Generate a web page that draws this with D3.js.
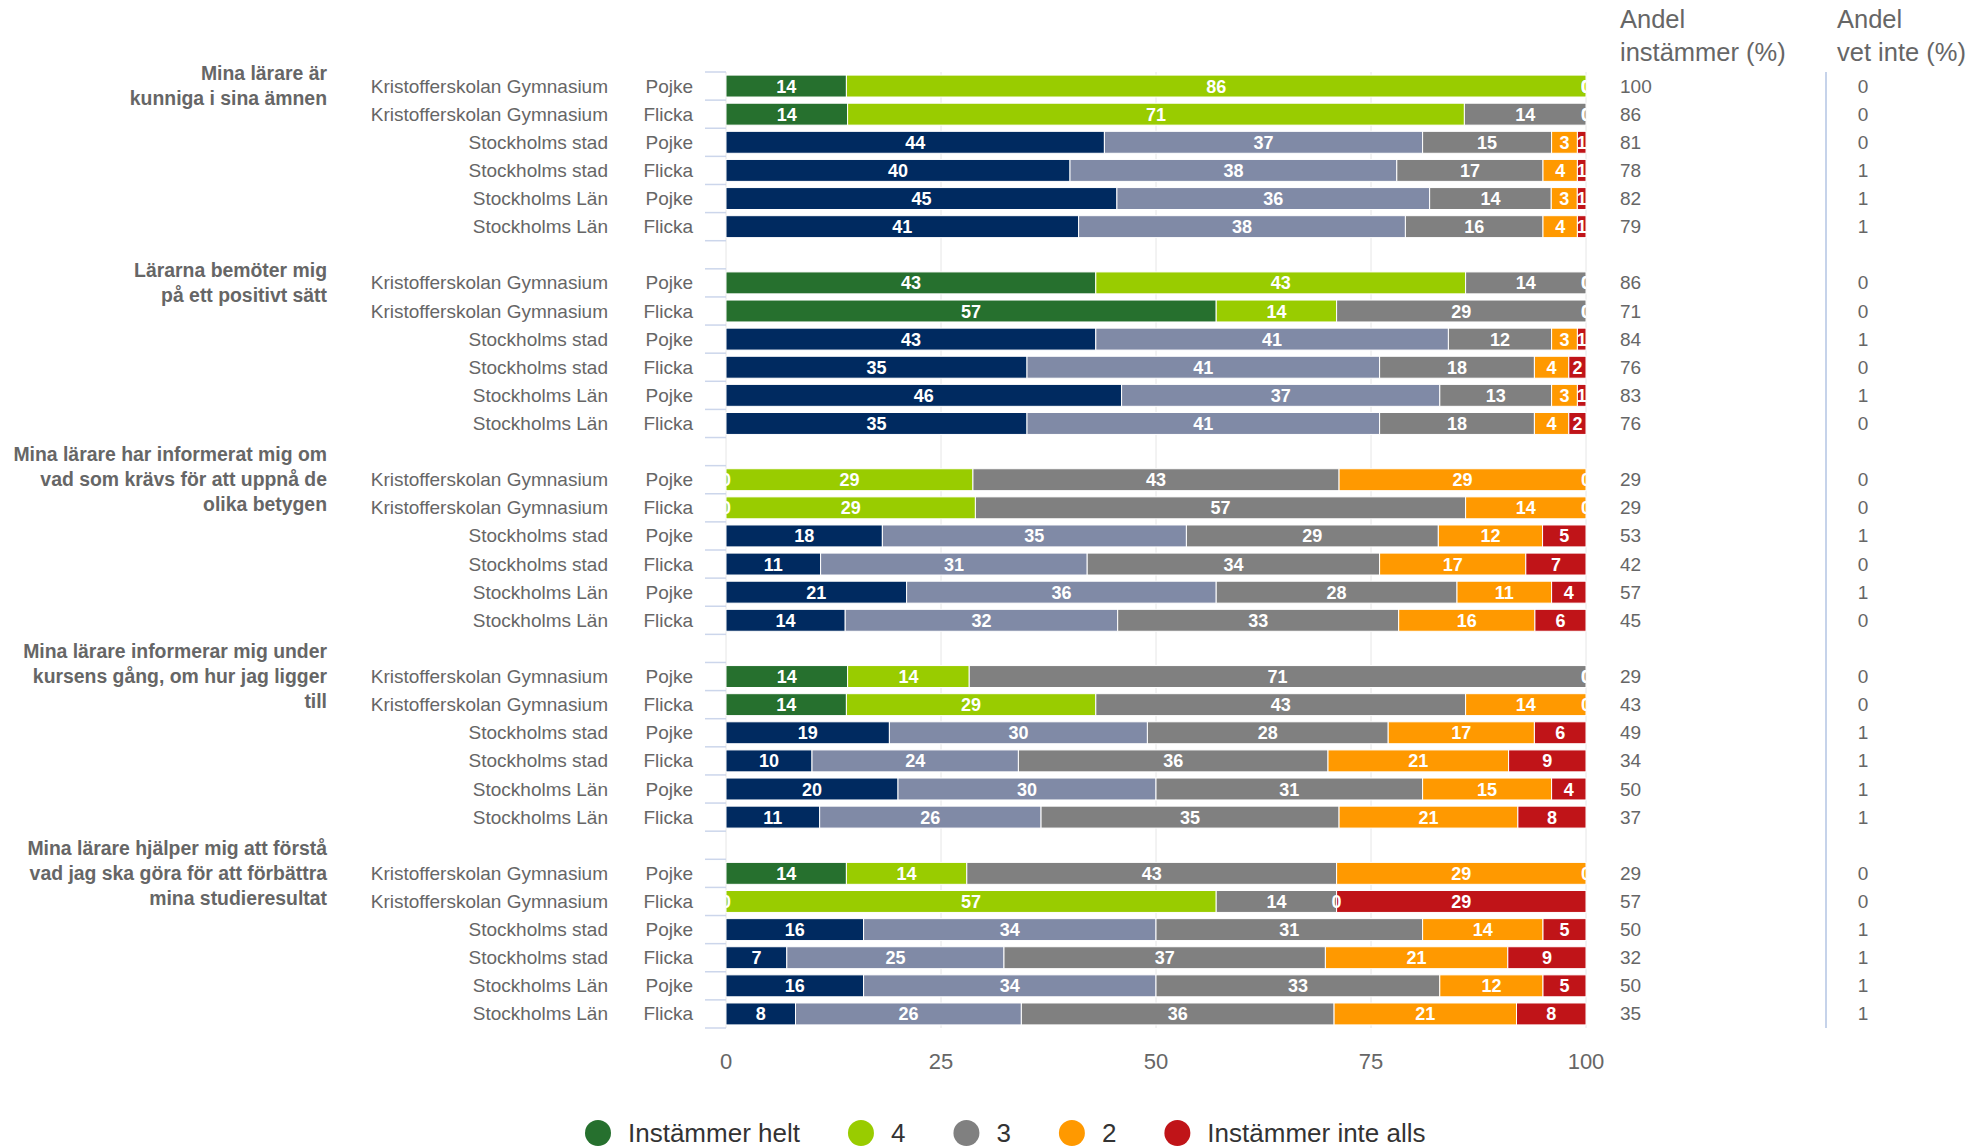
<!DOCTYPE html>
<html>
<head>
<meta charset="utf-8">
<script src="https://cdnjs.cloudflare.com/ajax/libs/d3/7.8.5/d3.min.js"></script>
<style>
  body { margin: 0; background: #fff; }
  svg { font-family: "Liberation Sans", Arial, Helvetica, sans-serif; }
</style>
</head>
<body>
<div class="chart"></div>
<script>
// Answer categories, in stacking order
var categories = ["Instämmer helt", "4", "3", "2", "Instämmer inte alls"];

// Question labels (already broken into lines like the original)
var questions = [
    ["Mina lärare är", "kunniga i sina ämnen"],
    ["Lärarna bemöter mig", "på ett positivt sätt"],
    ["Mina lärare har informerat mig om", "vad som krävs för att uppnå de", "olika betygen"],
    ["Mina lärare informerar mig under", "kursens gång, om hur jag ligger", "till"],
    ["Mina lärare hjälper mig att förstå", "vad jag ska göra för att förbättra", "mina studieresultat"]
];

// Rows inside each question
var schools = ["Kristofferskolan Gymnasium", "Kristofferskolan Gymnasium", "Stockholms stad", "Stockholms stad", "Stockholms Län", "Stockholms Län"];
var genders = ["Pojke", "Flicka", "Pojke", "Flicka", "Pojke", "Flicka"];

// Percent per category, one row per bar (5 questions x 6 rows)
var values = [
    [14, 86, 0, 0, 0], [14, 71, 14, 0, 0], [44, 37, 15, 3, 1], [40, 38, 17, 4, 1], [45, 36, 14, 3, 1], [41, 38, 16, 4, 1],
    [43, 43, 14, 0, 0], [57, 14, 29, 0, 0], [43, 41, 12, 3, 1], [35, 41, 18, 4, 2], [46, 37, 13, 3, 1], [35, 41, 18, 4, 2],
    [0, 29, 43, 29, 0], [0, 29, 57, 14, 0], [18, 35, 29, 12, 5], [11, 31, 34, 17, 7], [21, 36, 28, 11, 4], [14, 32, 33, 16, 6],
    [14, 14, 71, 0, 0], [14, 29, 43, 14, 0], [19, 30, 28, 17, 6], [10, 24, 36, 21, 9], [20, 30, 31, 15, 4], [11, 26, 35, 21, 8],
    [14, 14, 43, 29, 0], [0, 57, 14, 0, 29], [16, 34, 31, 14, 5], [7, 25, 37, 21, 9], [16, 34, 33, 12, 5], [8, 26, 36, 21, 8]
];

var andelInstammer = [
    100, 86, 81, 78, 82, 79,
    86, 71, 84, 76, 83, 76,
    29, 29, 53, 42, 57, 45,
    29, 43, 49, 34, 50, 37,
    29, 57, 50, 32, 50, 35
];
var andelVetInte = [
    0, 0, 0, 1, 1, 1,
    0, 0, 1, 0, 1, 0,
    0, 0, 1, 0, 1, 0,
    0, 0, 1, 1, 1, 1,
    0, 0, 1, 1, 1, 1
];

var xTicks = [0, 25, 50, 75, 100];

// colours
var schoolColors = ["#26702e", "#99cc00", "#808080", "#ff9900", "#c01418"];
var regionColors = ["#002a60", "#808aa6", "#808080", "#ff9900", "#c01418"];

var W = 1985, H = 1148;
var plotLeft = 726, plotRight = 1586, plotTop = 72, plotBottom = 1028;

var svg = d3.select("div.chart")
    .append("svg")
        .attr("width", W)
        .attr("height", H);

// one slot per row plus an empty slot between questions
var slots = [];
var rows = [];
questions.forEach(function(q, g) {
    for (var r = 0; r < 6; r++) {
        var i = g * 6 + r;
        var slot = g * 7 + r;
        slots.push(slot);
        rows.push({
            slot: slot, group: g, idx: i,
            school: schools[r], gender: genders[r],
            vals: values[i],
            instammer: andelInstammer[i], vetinte: andelVetInte[i]
        });
    }
    if (g < questions.length - 1) slots.push(g * 7 + 6);
});

var x = d3.scaleLinear().domain([0, 100]).range([plotLeft, plotRight]);
var y = d3.scaleBand()
    .domain(slots)
    .range([plotTop, plotBottom])
    .paddingInner(0.22)
    .paddingOuter(0.11);
var step = y.step();

// Gridlines
svg.append("g").attr("class", "grid")
    .selectAll("line")
    .data(xTicks)
    .enter()
    .append("line")
        .attr("x1", function(d) { return x(d); })
        .attr("x2", function(d) { return x(d); })
        .attr("y1", plotTop)
        .attr("y2", plotBottom)
        .attr("stroke", "#e6e6e6")
        .attr("stroke-width", 1);

// Category tick marks (between slots)
var tickYs = d3.range(slots.length + 1).map(function(k) { return plotTop + k * step; });
svg.append("g").attr("class", "yticks")
    .selectAll("line")
    .data(tickYs)
    .enter()
    .append("line")
        .attr("x1", plotLeft - 21)
        .attr("x2", plotLeft)
        .attr("y1", function(d) { return d; })
        .attr("y2", function(d) { return d; })
        .attr("stroke", "#ccd6eb")
        .attr("stroke-width", 1.5);

// x axis labels
svg.append("g").attr("class", "xlabels")
    .selectAll("text")
    .data(xTicks)
    .enter()
    .append("text")
        .attr("x", function(d) { return x(d); })
        .attr("y", 1069)
        .attr("text-anchor", "middle")
        .style("font-size", "22px")
        .style("fill", "#666")
        .text(function(d) { return d; });

// Stack each row (normalised to 100)
var stack = d3.stack().keys(d3.range(categories.length));
var rowData = rows.map(function(r) {
    var sum = d3.sum(r.vals);
    var o = {};
    r.vals.forEach(function(v, k) { o[k] = v / sum * 100; });
    return o;
});
var series = stack(rowData);

svg.append("clipPath").attr("id", "plotclip")
    .append("rect")
        .attr("x", plotLeft).attr("y", plotTop)
        .attr("width", plotRight - plotLeft)
        .attr("height", plotBottom - plotTop);

var bars = svg.append("g").attr("class", "bars");
var labels = svg.append("g").attr("class", "barlabels").attr("clip-path", "url(#plotclip)");

series.forEach(function(s, k) {
    bars.selectAll("rect.s" + k)
        .data(s)
        .enter()
        .append("rect")
            .attr("class", "s" + k)
            .attr("x", function(d) { return x(d[0]); })
            .attr("width", function(d) { return x(d[1]) - x(d[0]); })
            .attr("y", function(d, i) { return y(rows[i].slot); })
            .attr("height", y.bandwidth())
            .attr("fill", function(d, i) {
                return rows[i].school.indexOf("Kristofferskolan") === 0 ? schoolColors[k] : regionColors[k];
            })
            .attr("stroke", "#fff")
            .attr("stroke-width", 1);

    labels.selectAll("text.s" + k)
        .data(s)
        .enter()
        .append("text")
            .attr("class", "s" + k)
            .attr("x", function(d) { return (x(d[0]) + x(d[1])) / 2; })
            .attr("y", function(d, i) { return y(rows[i].slot) + y.bandwidth() / 2 + 6.5; })
            .attr("text-anchor", "middle")
            .style("font-size", "18px")
            .style("font-weight", "bold")
            .style("fill", "#fff")
            .text(function(d, i) { return rows[i].vals[k]; });
});

// Row labels
var rowLabels = svg.append("g").attr("class", "rowlabels")
    .style("font-size", "19px")
    .style("fill", "#666");
rows.forEach(function(r) {
    var cy = y(r.slot) + y.bandwidth() / 2 + 6.5;
    rowLabels.append("text")
        .attr("x", 608).attr("y", cy)
        .attr("text-anchor", "end")
        .text(r.school);
    rowLabels.append("text")
        .attr("x", 693).attr("y", cy)
        .attr("text-anchor", "end")
        .text(r.gender);
    rowLabels.append("text")
        .attr("x", 1620).attr("y", cy)
        .text(r.instammer);
    rowLabels.append("text")
        .attr("x", 1863).attr("y", cy)
        .attr("text-anchor", "middle")
        .text(r.vetinte);
});

// Question labels, centred on the first row of each group
var qLabels = svg.append("g").attr("class", "questions")
    .style("font-size", "19.4px")
    .style("font-weight", "bold")
    .style("fill", "#666");
var lineH = 25;
questions.forEach(function(lines, g) {
    var cy = y(g * 7) + y.bandwidth() / 2;
    var firstBase = cy - (lines.length - 1) * lineH / 2 + 6.5;
    lines.forEach(function(t, j) {
        qLabels.append("text")
            .attr("x", 327)
            .attr("y", firstBase + j * lineH)
            .attr("text-anchor", "end")
            .text(t);
    });
});

// Right side headers and separator
var headers = [
    { x: 1620, lines: ["Andel", "instämmer (%)"] },
    { x: 1837, lines: ["Andel", "vet inte (%)"] }
];
headers.forEach(function(h) {
    h.lines.forEach(function(t, j) {
        svg.append("text")
            .attr("x", h.x)
            .attr("y", 28 + j * 33)
            .style("font-size", "25.5px")
            .style("fill", "#666")
            .text(t);
    });
});
svg.append("line")
    .attr("x1", 1826).attr("x2", 1826)
    .attr("y1", plotTop).attr("y2", plotBottom)
    .attr("stroke", "#c6d3ea")
    .attr("stroke-width", 2);

// Legend
var legend = svg.append("g").attr("class", "legend");
var lx = 598;
categories.forEach(function(c, k) {
    legend.append("circle")
        .attr("cx", lx)
        .attr("cy", 1133)
        .attr("r", 13)
        .style("fill", schoolColors[k]);
    var t = legend.append("text")
        .attr("x", lx + 30)
        .attr("y", 1142)
        .style("font-size", "26px")
        .style("fill", "#333")
        .text(c);
    lx = lx + 30 + t.node().getComputedTextLength() + 61;
});
</script>
</body>
</html>
